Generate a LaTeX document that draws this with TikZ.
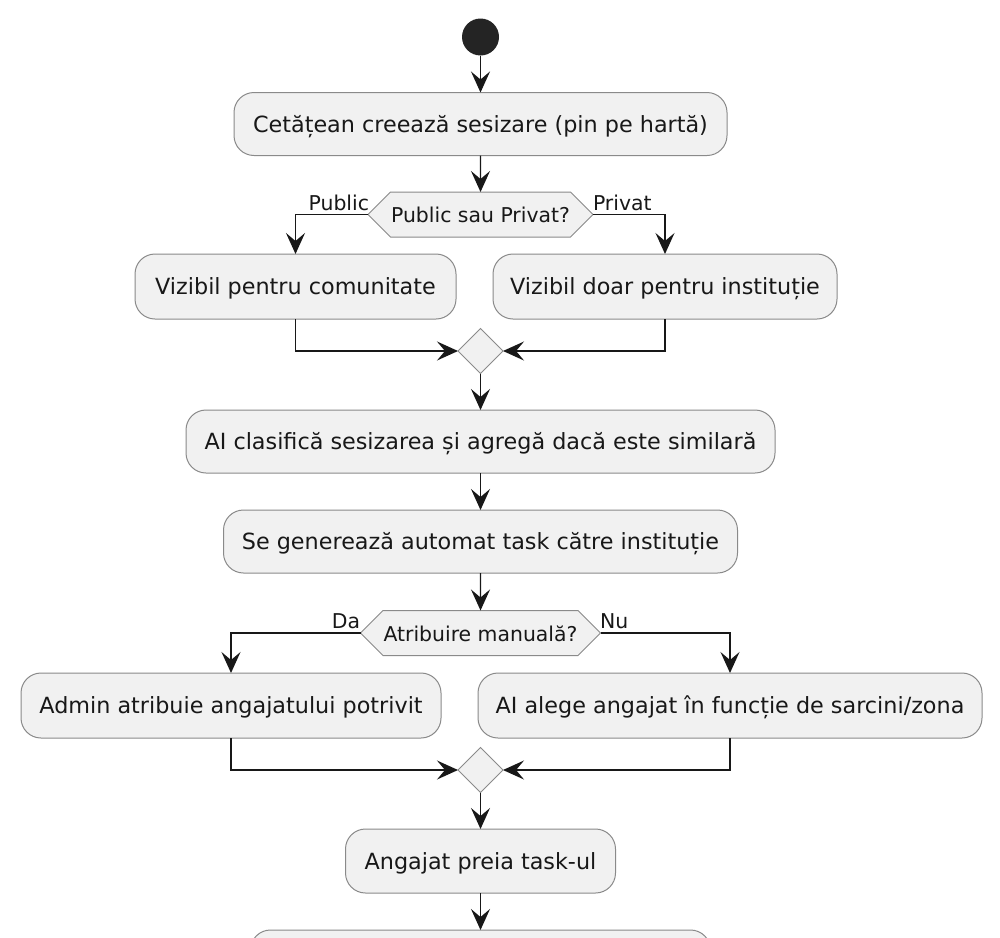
\documentclass[tikz,border=0pt]{standalone}
\usepackage{fontspec}
\setmainfont{DejaVu Sans}
\usetikzlibrary{arrows.meta,shapes.geometric,shapes.misc}
\definecolor{boxfill}{HTML}{F1F1F1}
\definecolor{boxline}{HTML}{8A8A8A}
\definecolor{ink}{HTML}{181818}
\newcommand{\lowtext}[1]{\raisebox{-8pt}[0pt][0pt]{#1}}
\tikzset{
  x=1pt,y=-1pt,
  act/.style={draw=boxline,fill=boxfill,line width=1pt,rounded corners=20pt,inner sep=0pt,outer sep=0pt,text=ink,font=\fontsize{22.3}{26}\selectfont,minimum height=63pt,anchor=center},
  hex/.style={draw=boxline,fill=boxfill,line width=1pt,chamfered rectangle,chamfered rectangle xsep=22pt,chamfered rectangle ysep=22.5pt,inner sep=0pt,outer sep=0pt,text=ink,font=\fontsize{20.4}{24}\selectfont,minimum height=45pt},
  merge/.style={draw=boxline,fill=boxfill,line width=1pt,diamond,aspect=1,inner sep=0pt,outer sep=0pt,minimum width=45pt,minimum height=45pt},
  startdot/.style={circle,fill=ink!95!white,minimum size=37pt,inner sep=0pt,outer sep=0pt},
  lab/.style={inner sep=0pt,outer sep=0pt,text=ink,font=\fontsize{20.4}{24}\selectfont},
  flow/.style={draw=ink,line width=1.4pt,-{Stealth[length=21pt,width=19pt,inset=8pt]}},
}
\begin{document}
\begin{tikzpicture}
\clip (0,0) rectangle (1000,937);
\fill[white] (0,0) rectangle (1000,937);
\node[startdot] (start) at (480.5,37) {};
\node[act,minimum width=493pt] (a1) at (480.5,124) {\lowtext{Cetățean creează sesizare (pin pe hartă)}};
\node[hex,minimum width=225pt] (h1) at (480.5,214.5) {\lowtext{Public sau Privat?}};
\node[act,minimum width=321pt,minimum height=65pt] (v1) at (295.5,286.5) {\lowtext{Vizibil pentru comunitate}};
\node[act,minimum width=344pt,minimum height=65pt] (v2) at (665,286.5) {\lowtext{Vizibil doar pentru instituție}};
\node[merge] (m1) at (480.5,351) {};
\node[act,minimum width=589pt] (a2) at (480.5,441.5) {\lowtext{AI clasifică sesizarea și agregă dacă este similară}};
\node[act,minimum width=514pt] (a3) at (480.5,541.5) {\lowtext{Se generează automat task către instituție}};
\node[hex,minimum width=240pt] (h2) at (480.5,633) {\lowtext{Atribuire manuală?}};
\node[act,minimum width=420pt,minimum height=65pt] (b1) at (231,705.5) {\lowtext{Admin atribuie angajatului potrivit}};
\node[act,minimum width=504pt,minimum height=65pt] (b2) at (730,705.5) {\lowtext{AI alege angajat în funcție de sarcini/zona}};
\node[merge] (m2) at (480.5,770) {};
\node[act,minimum width=270pt,minimum height=64pt] (a4) at (480.5,861) {\lowtext{Angajat preia task-ul}};
\node[act,minimum width=460pt] (a5) at (480.5,961.5) {};
\node[lab,anchor=base east] (lpub) at (369,210) {Public};
\node[lab,anchor=base west] (lpri) at (593,210) {Privat};
\node[lab,anchor=base east] (lda) at (360,628) {Da};
\node[lab,anchor=base west] (lnu) at (600,628) {Nu};
\draw[flow] (start) -- (a1);
\draw[flow] (a1) -- (h1);
\draw[flow] (h1.west) -| (v1.north);
\draw[flow] (h1.east) -| (v2.north);
\draw[flow] (v1.south) |- (m1.west);
\draw[flow] (v2.south) |- (m1.east);
\draw[flow] (m1) -- (a2);
\draw[flow] (a2) -- (a3);
\draw[flow] (a3) -- (h2);
\draw[flow] (h2.west) -| (b1.north);
\draw[flow] (h2.east) -| (b2.north);
\draw[flow] (b1.south) |- (m2.west);
\draw[flow] (b2.south) |- (m2.east);
\draw[flow] (m2) -- (a4);
\draw[flow] (a4) -- (a5);
\end{tikzpicture}
\end{document}
